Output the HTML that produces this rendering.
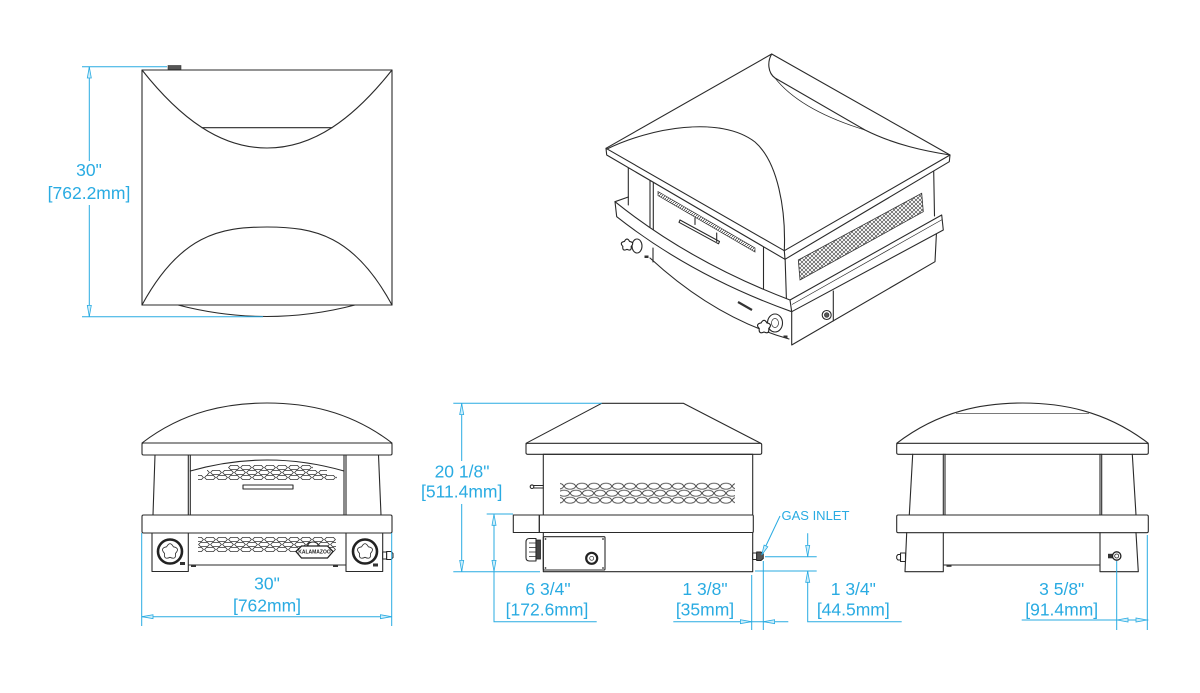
<!DOCTYPE html>
<html><head><meta charset="utf-8">
<style>
html,body{margin:0;padding:0;background:#fff;}
svg{display:block;}
.k{fill:none;stroke:#2a2a2a;stroke-width:1.1;stroke-linejoin:round;stroke-linecap:round;}
.t{fill:none;stroke:#2a2a2a;stroke-width:0.7;}
.w{fill:#fff;stroke:#2a2a2a;stroke-width:1.1;stroke-linejoin:round;}
.d{fill:none;stroke:#29abe2;stroke-width:1;}
.a{fill:#cdeefb;stroke:#29abe2;stroke-width:0.8;}
text{font-family:"Liberation Sans",Arial,sans-serif;fill:#29abe2;font-size:17.5px;}
</style></head><body>
<svg width="1200" height="693" viewBox="0 0 1200 693" xmlns="http://www.w3.org/2000/svg">
<defs>
 <pattern id="hA" patternUnits="userSpaceOnUse" x="0" y="0" width="12" height="5"><path d="M0.6,2.5 L2.6,0.4 L9.4,0.4 L11.4,2.5 L9.4,4.6 L2.6,4.6 Z" fill="none" stroke="#333" stroke-width="0.8"/></pattern>
 <pattern id="hB" patternUnits="userSpaceOnUse" x="6" y="0" width="12" height="5"><path d="M0.6,2.5 L2.6,0.4 L9.4,0.4 L11.4,2.5 L9.4,4.6 L2.6,4.6 Z" fill="none" stroke="#333" stroke-width="0.8"/></pattern>
 <pattern id="oA" patternUnits="userSpaceOnUse" x="0" y="0" width="12" height="7"><ellipse cx="6" cy="3.5" rx="5.5" ry="3" fill="none" stroke="#333" stroke-width="0.8"/></pattern>
 <pattern id="oB" patternUnits="userSpaceOnUse" x="6" y="0" width="12" height="7"><ellipse cx="6" cy="3.5" rx="5.5" ry="3" fill="none" stroke="#333" stroke-width="0.8"/></pattern>
 <pattern id="mesh" patternUnits="userSpaceOnUse" width="4" height="4"><path d="M0,0 L4,4 M4,0 L0,4" stroke="#333" stroke-width="0.6"/></pattern>
 <pattern id="hatch" patternUnits="userSpaceOnUse" width="3" height="3"><path d="M0,3 L3,0" stroke="#333" stroke-width="0.7"/></pattern>
 <path id="lobe" d="M2.35,-3.24 Q7.13,-2.32 3.8,1.24 Q4.41,6.07 0,4 Q-4.41,6.07 -3.8,1.24 Q-7.13,-2.32 -2.35,-3.24 Q0,-7.5 2.35,-3.24 Z"/>
</defs>
<rect width="1200" height="693" fill="#fff"/>

<!-- ============ PLAN VIEW ============ -->
<g class="k">
 <rect x="142" y="70" width="250" height="235"/>
 <path d="M142,70 C180,118 220,148 267,148 C314,148 354,118 392,70"/>
 <path d="M202,127.7 L332,127.7"/>
 <path d="M142,305 C180,235 220,227 267,227 C314,227 354,235 392,305"/>
 <path d="M178,305 Q267,328 355,305"/>
</g>
<rect x="168" y="65.5" width="13" height="4" fill="#555" stroke="#333" stroke-width="0.6"/>
<path class="d" d="M82,66.7 H167 M82,316.7 H263 M89.3,66.7 V161 M89.3,205 V316.7"/>
<polygon class="a" points="89.3,67 87.3,78 91.3,78"/>
<polygon class="a" points="89.3,316.4 87.3,305.4 91.3,305.4"/>
<text x="89" y="176" text-anchor="middle">30"</text>
<text x="89" y="199" text-anchor="middle">[762.2mm]</text>

<!-- ============ ISOMETRIC VIEW ============ -->
<!-- lower box -->
<g class="k">
 <path d="M791.7,311.7 L791.7,345 L935,261.7 L936.7,228"/>
 <path d="M833.3,291 L833.3,321"/>
 <path d="M650,258 Q715,318 789,339"/>
 <path d="M653,248 L653,262"/>
</g>
<path d="M738,302 L752,310" stroke="#333" stroke-width="2.2"/>
<circle cx="826.7" cy="315" r="4.5" class="w"/>
<circle cx="826.7" cy="315" r="2.3" fill="#555" stroke="#222" stroke-width="0.6"/>
<rect x="783.5" y="335.5" width="4" height="2.5" fill="#333"/>
<rect x="644.5" y="255.5" width="4" height="2.5" fill="#333"/>
<!-- upper body -->
<path class="k" d="M628.3,165 L628.3,205 M650,180 L650,240 M653.3,182 L653.3,240 M763.5,244 L763.5,292 M785,255 L786.5,302 M933.5,160 L934.5,216"/>
<polygon points="658,191.5 755,248 755,252 658,195.5" fill="url(#hatch)" stroke="#333" stroke-width="0.7"/>
<polygon points="680,220 719.5,241.5 718.5,243.8 679,222.3" class="w" stroke-width="0.9"/>
<path class="k" d="M695,218 L695,224.5 M716.7,233 L716.7,241.5" stroke-width="1.6"/>
<polygon points="798.3,260 921.7,193.3 923.3,211.7 800,280" fill="url(#mesh)" stroke="#333" stroke-width="0.8"/>
<!-- band -->
<path class="w" d="M615,201.7 Q690,262 790,300 L941.7,215 L943.3,230 L791.7,311.7 Q692,276 616.7,216.7 Z"/>
<path class="t" d="M792,304.5 L942.3,219.5"/>
<path class="k" d="M790,300 L791.7,311.7 M615,201.7 L628.3,197"/>
<!-- knobs iso -->
<ellipse cx="637" cy="246" rx="5" ry="7" class="w" stroke-width="1.6"/>
<use href="#lobe" transform="translate(627,245) scale(1.1)" fill="#fff" stroke="#222" stroke-width="1"/>
<ellipse cx="775" cy="323" rx="7.5" ry="9" class="w" stroke-width="1.6"/>
<ellipse cx="775" cy="323" rx="3.5" ry="4.5" class="t"/>
<use href="#lobe" transform="translate(764,327) scale(1.25)" fill="#fff" stroke="#222" stroke-width="0.9"/>
<!-- roof -->
<path class="w" d="M606,148.3 L771.7,54 L950,155 L949.3,161.7 L785,259.3 L606.7,155 Z"/>
<path class="k" d="M606,148.3 L784.3,250.7 L950,155 M784.3,250.7 L785,259.3"/>
<path class="k" d="M607,149 C650,128 720,115 755,142 C778,162 786,210 784.3,250.7"/>
<path class="k" d="M771.7,54 C767,62 768,73 775,78 L865,130 C895,145 925,151 950,155"/>
<path class="t" d="M775,78 Q800,110 865,130"/>

<!-- ============ FRONT VIEW ============ -->
<g class="k">
 <path d="M142,443 C185,410 230,403 267,403 C304,403 349,410 392,443"/>
 <rect x="142" y="443" width="250" height="12" rx="1.5"/>
 <path d="M155,455 L153,515 M188.3,455 V515 M190.3,455 V515 M344,455 V515 M346,455 V515 M378.5,455 L381,515"/>
 <path d="M190.3,471 Q267,449 344,471"/>
 <rect x="243" y="485" width="50" height="4"/>
 <rect x="142" y="515" width="250" height="18" rx="1.5"/>
 <path d="M152,533 V571.5 H188.3 V533 M346,533 V571.5 H382.7 V533 M188.3,565 H346"/>
</g>
<g transform="translate(0,465)"><rect x="228" y="0" width="85" height="5" fill="url(#hA)"/></g>
<g transform="translate(0,470)"><rect x="207" y="0" width="120" height="5" fill="url(#hB)"/></g>
<g transform="translate(0,475)"><rect x="198" y="0" width="139" height="5" fill="url(#hA)"/></g>
<g transform="translate(0,537)"><rect x="198" y="0" width="138" height="5" fill="url(#hA)"/></g>
<g transform="translate(0,542)"><rect x="198" y="0" width="138" height="5" fill="url(#hB)"/></g>
<g transform="translate(0,547)"><rect x="198" y="0" width="138" height="5" fill="url(#hA)"/></g>
<rect x="191" y="565" width="5" height="2" fill="#333"/>
<rect x="333" y="565" width="5" height="2" fill="#333"/>
<ellipse cx="313" cy="545" rx="5" ry="3" class="w" stroke-width="0.8"/>
<path d="M296,551.5 L301.5,546 L327.5,546 L333,551.5 L327.5,558 L301.5,558 Z" fill="#fff" stroke="#222" stroke-width="1.3"/>
<text x="314.5" y="553.5" text-anchor="middle" style="font-size:5px;fill:#222;font-weight:bold">KALAMAZOO</text>
<circle cx="170" cy="551.5" r="12" fill="#fff" stroke="#222" stroke-width="2.6"/>
<use href="#lobe" transform="translate(170,551.5) scale(1.45)" fill="#fff" stroke="#333" stroke-width="0.6"/>
<circle cx="365" cy="551.5" r="12" fill="#fff" stroke="#222" stroke-width="2.6"/>
<use href="#lobe" transform="translate(365,551.5) scale(1.45)" fill="#fff" stroke="#333" stroke-width="0.6"/>
<rect x="180" y="562" width="5" height="3" fill="#333"/>
<rect x="373" y="563.5" width="5" height="3" fill="#333"/>
<rect x="382.7" y="552" width="4" height="7" class="w" stroke-width="0.9"/>
<path d="M386.7,551.5 H391 L393,553.5 V557.5 L391,559.5 H386.7 Z" fill="#fff" stroke="#222" stroke-width="1"/>
<path class="d" d="M141.7,533 V626 M391.7,533 V626 M141.7,616.7 H391.7"/>
<polygon class="a" points="142,616.7 153,614.7 153,618.7"/>
<polygon class="a" points="391.4,616.7 380.4,614.7 380.4,618.7"/>
<text x="267" y="589.3" text-anchor="middle">30"</text>
<text x="267" y="611.7" text-anchor="middle">[762mm]</text>

<!-- ============ SIDE VIEW ============ -->
<g class="k">
 <path d="M526,443.3 L601.7,403.3 L683.3,403.3 L760.7,443.3"/>
 <rect x="526" y="443.3" width="235.7" height="11" rx="1.5"/>
 <rect x="543.3" y="454.3" width="209.4" height="60.7"/>
 <rect x="513.3" y="515" width="26" height="17.5"/>
 <rect x="539.3" y="515" width="214" height="17.5" rx="1"/>
 <rect x="543.3" y="532.5" width="209.4" height="39.2"/>
 <rect x="543.3" y="536.7" width="61.7" height="33.3" rx="1"/>
 <path d="M533,485.5 H543.3 M533,488 H543.3"/>
</g>
<circle cx="532" cy="486.7" r="1.8" class="w"/>
<g transform="translate(0,482.7)"><rect x="560" y="0" width="175" height="7" fill="url(#oA)"/></g>
<g transform="translate(0,489.7)"><rect x="560" y="0" width="175" height="7" fill="url(#oB)"/></g>
<g transform="translate(0,496.7)"><rect x="560" y="0" width="175" height="7" fill="url(#oA)"/></g>
<circle cx="545.5" cy="539" r="0.9" fill="#333"/><circle cx="603" cy="539" r="0.9" fill="#333"/>
<circle cx="545.5" cy="568" r="0.9" fill="#333"/><circle cx="603" cy="568" r="0.9" fill="#333"/>
<circle cx="591.7" cy="558.3" r="5.5" fill="#fff" stroke="#222" stroke-width="2.2"/>
<circle cx="591.7" cy="558.3" r="2" class="t"/>
<path class="w" d="M536,538.5 H529.5 Q526,538.5 526,542 V557.5 Q526,561 529.5,561 H536 Z"/>
<rect x="536" y="540" width="4.5" height="19" fill="#444" stroke="#222" stroke-width="0.8"/>
<path class="t" d="M529,543 H536 M529,547.5 H536 M529,552 H536 M529,556.5 H536"/>
<rect x="752.7" y="553" width="4" height="6.5" class="w" stroke-width="0.9"/>
<path d="M756.7,552 H761 L763.3,554 V558.5 L761,560.5 H756.7 Z" fill="#555" stroke="#222" stroke-width="0.9"/>
<!-- side dims -->
<path class="d" d="M453.3,403.3 H601.7 M453.3,571.7 H540 M461.7,403.3 V461 M461.7,504 V571.7"/>
<polygon class="a" points="461.7,403.6 459.7,414.6 463.7,414.6"/>
<polygon class="a" points="461.7,571.4 459.7,560.4 463.7,560.4"/>
<text x="462" y="477.3" text-anchor="middle">20 1/8"</text>
<text x="461.7" y="497.3" text-anchor="middle">[511.4mm]</text>
<path class="d" d="M486.7,514 H513 M494,514 V621.7 H596.7"/>
<polygon class="a" points="494,514.3 492,525.3 496,525.3"/>
<polygon class="a" points="494,571.4 492,560.4 496,560.4"/>
<text x="548" y="595" text-anchor="middle">6 3/4"</text>
<text x="547" y="615.5" text-anchor="middle">[172.6mm]</text>
<path class="d" d="M751.7,575 V630 M763.3,561 V630 M673.3,621.7 H788.3"/>
<polygon class="a" points="751.4,621.7 740.4,619.7 740.4,623.7"/>
<polygon class="a" points="763.6,621.7 774.6,619.7 774.6,623.7"/>
<text x="705" y="595" text-anchor="middle">1 3/8"</text>
<text x="705" y="615.5" text-anchor="middle">[35mm]</text>
<text x="781.5" y="520" style="font-size:13px">GAS INLET</text>
<path class="d" d="M780,516 L763,552"/>
<polygon class="a" points="761.7,555 767.8,546.8 764.1,545.1"/>
<path class="d" d="M765,556.7 H816.7 M755,571 H816.7 M807.7,533.3 V556.7 M807.7,571 V621.7 H901.7"/>
<polygon class="a" points="807.7,556.4 805.7,545.4 809.7,545.4"/>
<polygon class="a" points="807.7,571.3 805.7,582.3 809.7,582.3"/>
<text x="853.3" y="595" text-anchor="middle">1 3/4"</text>
<text x="853.3" y="615.5" text-anchor="middle">[44.5mm]</text>

<!-- ============ REAR VIEW ============ -->
<g class="k">
 <path d="M896.7,443.3 C940,410 985,403 1022.5,403 C1060,403 1105,410 1148.3,443.3"/>
 <rect x="896.7" y="443.3" width="251.6" height="11" rx="1.5"/>
 <path d="M912.7,454.3 L909.3,515 M943.3,454.3 V515 M945,454.3 V515 M1100,454.3 V515 M1101.7,454.3 V515 M1132.3,454.3 L1136,515"/>
 <rect x="896.7" y="515" width="251.6" height="17.7" rx="1.5"/>
 <path d="M906.7,532.7 L905,571.7 H943.3 V532.7 M1100,532.7 V571.7 H1138.3 L1136,532.7 M943.3,565 H1100"/>
</g>
<path class="t" d="M956,413.3 H1089"/>
<rect x="946.5" y="565" width="5" height="1.8" fill="#333"/>
<rect x="900.5" y="553" width="5" height="8.5" class="w" stroke-width="0.9"/>
<path d="M900.5,554.5 H898 L896.7,556 V558.5 L898,560 H900.5 Z" fill="#fff" stroke="#222" stroke-width="1"/>
<rect x="1108" y="553.8" width="5" height="4.5" fill="#333"/>
<circle cx="1116.7" cy="556" r="4.2" fill="#fff" stroke="#222" stroke-width="1.3"/>
<circle cx="1116.7" cy="556" r="2" fill="none" stroke="#222" stroke-width="0.8"/>
<path class="d" d="M1116.7,561 V630 M1147.3,535 V630 M1021.7,620 H1148.3"/>
<polygon class="a" points="1117,620 1128,618 1128,622"/>
<polygon class="a" points="1147,620 1136,618 1136,622"/>
<text x="1061.7" y="595" text-anchor="middle">3 5/8"</text>
<text x="1061.7" y="615.5" text-anchor="middle">[91.4mm]</text>
</svg>
</body></html>
